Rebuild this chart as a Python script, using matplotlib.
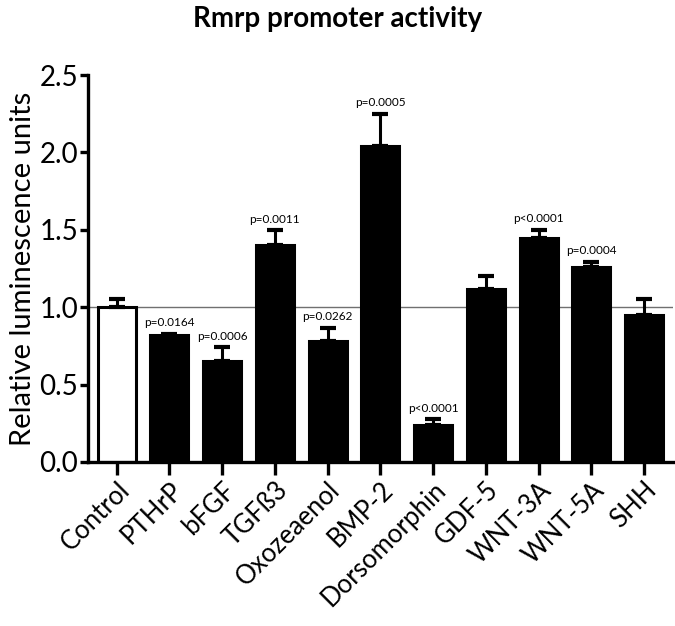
import numpy as np
import matplotlib
matplotlib.use("Agg")
import matplotlib.pyplot as plt

# ---- data ----
labels = ["Control", "PTHrP", "bFGF", "TGFß3", "Oxozeaenol", "BMP-2",
          "Dorsomorphin", "GDF-5", "WNT-3A", "WNT-5A", "SHH"]
means = [1.00, 0.82, 0.65, 1.40, 0.78, 2.04, 0.24, 1.12, 1.45, 1.26, 0.95]
errs = [0.055, 0.01, 0.09, 0.097, 0.086, 0.21, 0.035, 0.082, 0.05, 0.033, 0.103]
pvals = ["", "p=0.0164", "p=0.0006", "p=0.0011", "p=0.0262", "p=0.0005",
         "p<0.0001", "", "p<0.0001", "p=0.0004", ""]

plt.rcParams["font.family"] = ["Lato", "DejaVu Sans"]

fig = plt.figure(figsize=(6.75, 6.26), dpi=100)
ax = fig.add_axes([0.130, 0.262, 0.867, 0.618])

x = np.arange(len(labels))
colors = ["white"] + ["black"] * (len(labels) - 1)

ax.axhline(1.0, color="#707070", lw=1.0, zorder=1)

ax.bar(x, means, width=0.72, color=colors, edgecolor="black", linewidth=2.2, zorder=2)
ax.errorbar(x, means, yerr=[np.zeros(len(errs)), errs], fmt="none",
            ecolor="black", elinewidth=2.2, capsize=6, capthick=3, zorder=3)

for xi, m, e, p in zip(x, means, errs, pvals):
    if p:
        ax.annotate(p, (xi, m + e), xytext=(0, 4), textcoords="offset points",
                    ha="center", va="bottom", fontsize=8.5)

ax.set_xlim(-0.55, 10.55)
ax.set_ylim(0, 2.5)
ax.set_yticks([0.0, 0.5, 1.0, 1.5, 2.0, 2.5])
ax.set_yticklabels(["0.0", "0.5", "1.0", "1.5", "2.0", "2.5"])
ax.set_xticks(x)
ax.set_xticklabels(labels, rotation=45, ha="right", rotation_mode="anchor")
ax.set_ylabel("Relative luminescence units", fontsize=21, labelpad=2)

for s in ["top", "right"]:
    ax.spines[s].set_visible(False)
for s in ["left", "bottom"]:
    ax.spines[s].set_linewidth(2.4)

ax.tick_params(axis="y", length=6, width=2.4, labelsize=20, pad=1)
ax.tick_params(axis="x", length=9, width=2.4, labelsize=18.5, pad=2)

fig.text(0.5, 0.97, "Rmrp promoter activity", ha="center", va="center",
         fontsize=20, fontweight="bold")

fig.savefig("out.png", dpi=100)
